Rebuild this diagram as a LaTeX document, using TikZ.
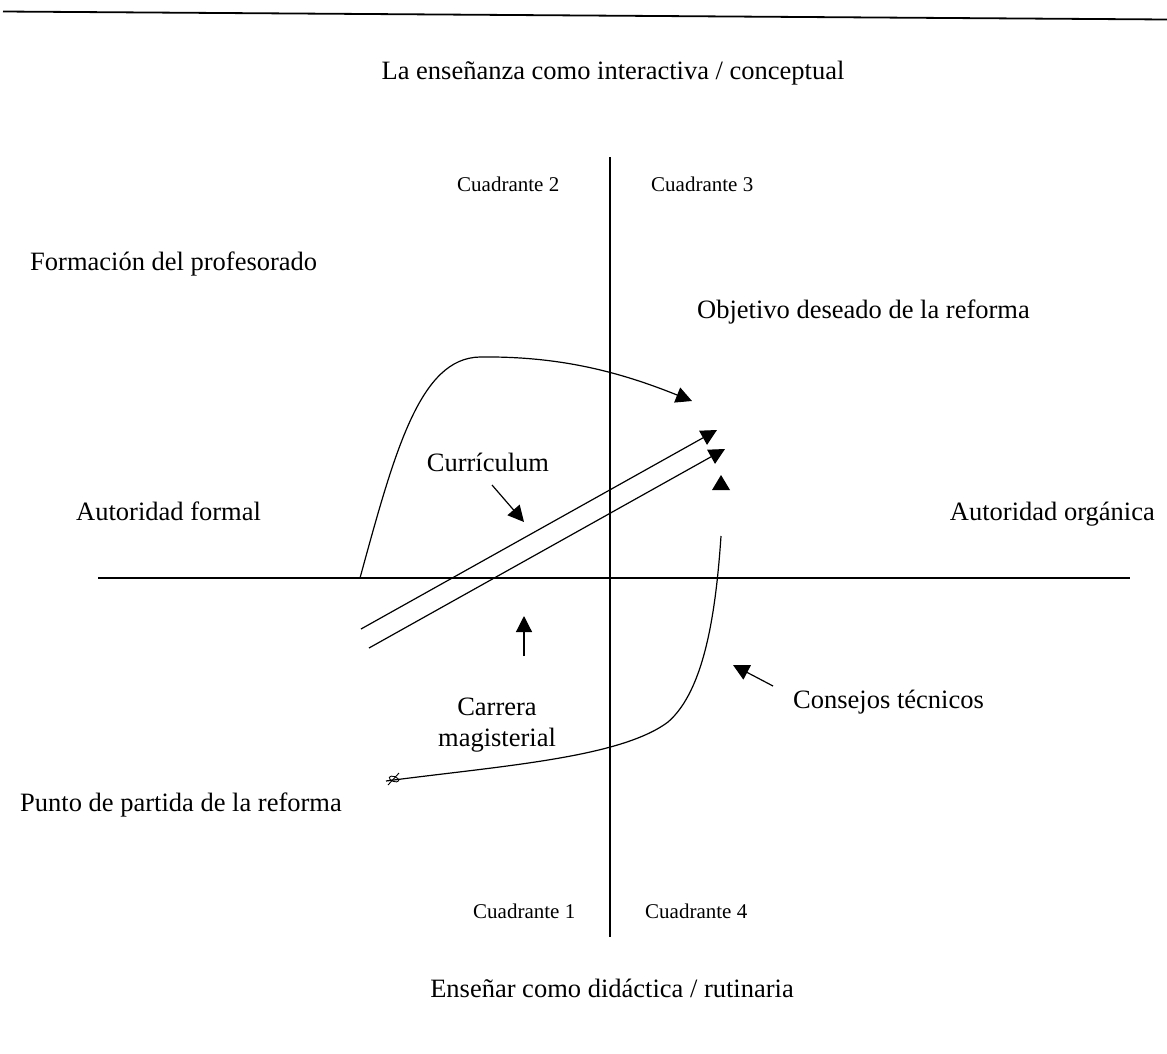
\documentclass[tikz,border=0pt]{standalone}
\usepackage{fontspec}
\setmainfont{Liberation Serif}
\usetikzlibrary{arrows.meta}
\begin{document}
\begin{tikzpicture}[x=1pt,y=-1pt,
  big/.style={font=\fontsize{26.5}{31}\selectfont, inner sep=0pt},
  small/.style={font=\fontsize{21}{25}\selectfont, inner sep=0pt},
  axis/.style={line width=1.3pt},
  curve/.style={line width=1.2pt},
  arr/.style={line width=1.2pt, -{Triangle[length=16pt,width=16pt]}},
  head/.style={fill=black}]
\useasboundingbox (0,0) rectangle (1167,1053);

% top rule
\coordinate (r1) at (3,11.5);
\coordinate (r2) at (1167,19.5);
\draw[line width=1.8pt] (r1) -- (r2);

% axes
\coordinate (vt) at (610,157);
\coordinate (vb) at (610,937);
\coordinate (hl) at (98,578);
\coordinate (hr) at (1130,578);
\draw[axis] (vt) -- (vb);
\draw[axis] (hl) -- (hr);

% labels
\node[big, anchor=base] (title) at (613,79) {La enseñanza como interactiva / conceptual};
\node[big, anchor=base] (bottom) at (612,997) {Enseñar como didáctica / rutinaria};
\node[small, anchor=base west] (q2) at (457,191) {Cuadrante 2};
\node[small, anchor=base west] (q3) at (651,191) {Cuadrante 3};
\node[small, anchor=base west] (q1) at (473,918) {Cuadrante 1};
\node[small, anchor=base west] (q4) at (645,918) {Cuadrante 4};
\node[big, anchor=base west] (form) at (30,270) {Formación del profesorado};
\node[big, anchor=base west] (obj) at (697,318) {Objetivo deseado de la reforma};
\node[big, anchor=base west] (af) at (76,520) {Autoridad formal};
\node[big, anchor=base east] (ao) at (1155,520) {Autoridad orgánica};
\node[big, anchor=base] (curr) at (488,471) {Currículum};
\node[big, anchor=base] (carr1) at (497,715) {Carrera};
\node[big, anchor=base] (carr2) at (497,746) {magisterial};
\node[big, anchor=base west] (cons) at (793,708) {Consejos técnicos};
\node[big, anchor=base west] (punto) at (20,811) {Punto de partida de la reforma};

% top curve (formación del profesorado)
\coordinate (fs) at (360,578);
\coordinate (fp) at (480,357);
\coordinate (fe) at (692,401);
\draw[arr] (fs) .. controls (395,450) and (420,358) .. (fp)
                .. controls (560,356) and (620,372) .. (fe);

% two parallel lines (currículum)
\coordinate (a1) at (361,629);
\coordinate (a2) at (717,430);
\coordinate (b1) at (369,648);
\coordinate (b2) at (725,449);
\draw[arr] (a1) -- (a2);
\draw[arr] (b1) -- (b2);

% bottom curve (consejos técnicos)
\coordinate (cs) at (386,781);
\coordinate (cm) at (668,722);
\coordinate (ce) at (721,536);
\draw[curve] (cs) .. controls (500,766) and (620,758) .. (cm)
                 .. controls (705,690) and (716,610) .. (ce);
\draw[line width=0.9pt] (388,785) -- (399,773);
\draw[line width=0.9pt] (394,779) ellipse [x radius=5, y radius=2.5, rotate=-20];
\fill[head] (712,490) -- (730,490) -- (721,475) -- cycle;

% small pointer arrows
\coordinate (p1s) at (492,485);
\coordinate (p1e) at (524,522);
\draw[arr] (p1s) -- (p1e);
\coordinate (p2s) at (524,656);
\coordinate (p2e) at (524,616);
\draw[arr] (p2s) -- (p2e);
\coordinate (p3s) at (773,686);
\coordinate (p3e) at (733,665);
\draw[arr] (p3s) -- (p3e);
\end{tikzpicture}
\end{document}
